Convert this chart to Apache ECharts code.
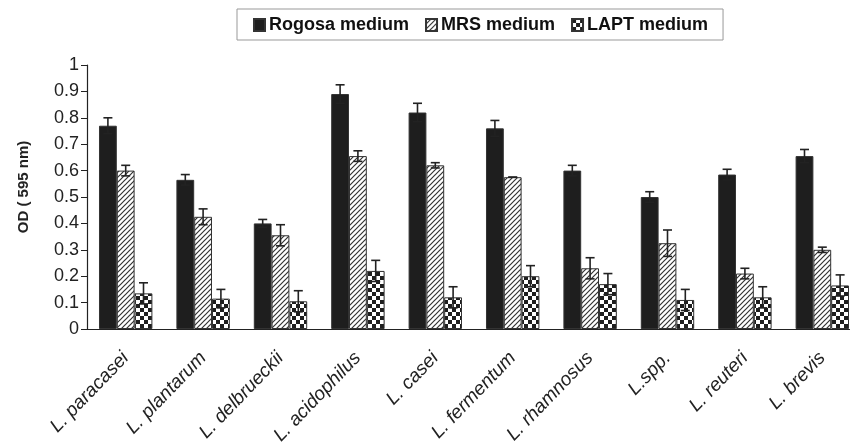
<!DOCTYPE html>
<html>
<head>
<meta charset="utf-8">
<script src="https://cdn.jsdelivr.net/npm/echarts@6/dist/echarts.min.js"></script>
<style>html,body{margin:0;padding:0;background:#fff;}#c{width:850px;height:446px;}</style>
</head>
<body>
<div id="c"></div>
<script>
const categories = ['L. paracasei','L. plantarum','L. delbrueckii','L. acidophilus','L. casei','L. fermentum','L. rhamnosus','L.spp.','L. reuteri','L. brevis'];
const seriesNames = ['Rogosa medium','MRS medium','LAPT medium'];
const rogosa = [0.77, 0.565, 0.40, 0.89, 0.82, 0.76, 0.60, 0.50, 0.585, 0.655];
const mrs    = [0.60, 0.425, 0.355, 0.655, 0.62, 0.575, 0.23, 0.325, 0.21, 0.30];
const lapt   = [0.135, 0.115, 0.105, 0.22, 0.12, 0.20, 0.17, 0.11, 0.12, 0.165];
const rogosaErr = [0.03, 0.02, 0.015, 0.035, 0.035, 0.03, 0.02, 0.02, 0.02, 0.025];
const mrsErr    = [0.02, 0.03, 0.04, 0.02, 0.01, 0.0, 0.04, 0.05, 0.02, 0.01];
const laptErr   = [0.04, 0.035, 0.04, 0.04, 0.04, 0.04, 0.04, 0.04, 0.04, 0.04];
const yTicks = ['0','0.1','0.2','0.3','0.4','0.5','0.6','0.7','0.8','0.9','1'];

function hatchPattern(){
  const c = document.createElement('canvas'); c.width = 5; c.height = 5;
  const g = c.getContext('2d');
  g.fillStyle = '#fff'; g.fillRect(0,0,5,5);
  g.strokeStyle = '#333'; g.lineWidth = 1.2;
  g.beginPath();
  g.moveTo(-1,6); g.lineTo(6,-1);
  g.moveTo(-6,6); g.lineTo(1,-1);
  g.moveTo(4,6); g.lineTo(11,-1);
  g.stroke();
  return c;
}
function checkerPattern(){
  const c = document.createElement('canvas'); c.width = 8; c.height = 8;
  const g = c.getContext('2d');
  g.fillStyle = '#fff'; g.fillRect(0,0,8,8);
  g.fillStyle = '#1e1e1e'; g.fillRect(0,0,4,4); g.fillRect(4,4,4,4);
  return c;
}

const CAT_GAP = 0.31;
function errRender(k){
  return function(params, api){
    const x = api.value(0), y = api.value(1), e = api.value(2);
    const band = api.size([1,0])[0];
    const bw = band*(1-CAT_GAP)/3;
    const c = api.coord([x, y]);
    const cx = c[0] + (k-1)*bw;
    const yt = api.coord([x, y+e])[1];
    const yb = api.coord([x, y-e])[1];
    const cap = 4.5;
    const st = {stroke:'#222', lineWidth:1.6};
    return {type:'group', children:[
      {type:'line', shape:{x1:cx,y1:yt,x2:cx,y2:yb}, style:st},
      {type:'line', shape:{x1:cx-cap,y1:yt,x2:cx+cap,y2:yt}, style:st},
      {type:'line', shape:{x1:cx-cap,y1:yb,x2:cx+cap,y2:yb}, style:st}
    ]};
  };
}

const vals = [rogosa, mrs, lapt];
const errs = [rogosaErr, mrsErr, laptErr];
const fills = ['#1e1e1e', {image: hatchPattern(), repeat:'repeat'}, {image: checkerPattern(), repeat:'repeat'}];

const series = [];
for (let k=0;k<3;k++){
  series.push({
    name: seriesNames[k], type:'bar', data: vals[k],
    barGap: '0%', barCategoryGap: (CAT_GAP*100)+'%',
    itemStyle: {color: fills[k], borderColor:'#333', borderWidth:1},
    emphasis:{disabled:true}
  });
}
for (let k=0;k<3;k++){
  series.push({
    type:'custom', renderItem: errRender(k), z: 10,
    data: vals[k].map((v,i)=>[i, v, errs[k][i]]),
    silent:true
  });
}

const chart = echarts.init(document.getElementById('c'), null, {renderer:'canvas'});
chart.setOption({
  animation:false,
  backgroundColor:'#fff',
  textStyle:{fontFamily:'Liberation Sans, Arial, sans-serif'},
  legend:{
    data: seriesNames, top: 9, left: 237,
    borderColor:'#999', borderWidth:1, padding:[7,15,6,16],
    itemWidth:11, itemHeight:12, itemGap:16, icon:'rect',
    textStyle:{fontSize:18, fontWeight:'bold', color:'#111', padding:[0,0,0,-1]}
  },
  grid:{left:87, width:774, top:65, height:264, containLabel:false, outerBoundsMode:'none'},
  xAxis:{
    type:'category', data: categories,
    axisLine:{lineStyle:{color:'#222', width:1.2}},
    axisTick:{show:false},
    axisLabel:{rotate:46, fontSize:19, fontStyle:'italic', color:'#222', margin:26, interval:0}
  },
  yAxis:{
    type:'value', min:0, max:1, interval:0.1,
    name:'OD ( 595 nm)', nameLocation:'middle', nameGap:56, nameRotate:90,
    nameTextStyle:{fontSize:15, fontWeight:'bold', color:'#222', padding:[0,0,0,20]},
    axisLine:{show:true, lineStyle:{color:'#222', width:1.2}},
    axisTick:{show:true, inside:false, length:6, lineStyle:{color:'#222'}},
    splitLine:{show:false},
    axisLabel:{fontSize:18, color:'#222', margin:8, formatter:(v)=>yTicks[Math.round(v*10)]}
  },
  series: series
});
</script>
</body>
</html>
